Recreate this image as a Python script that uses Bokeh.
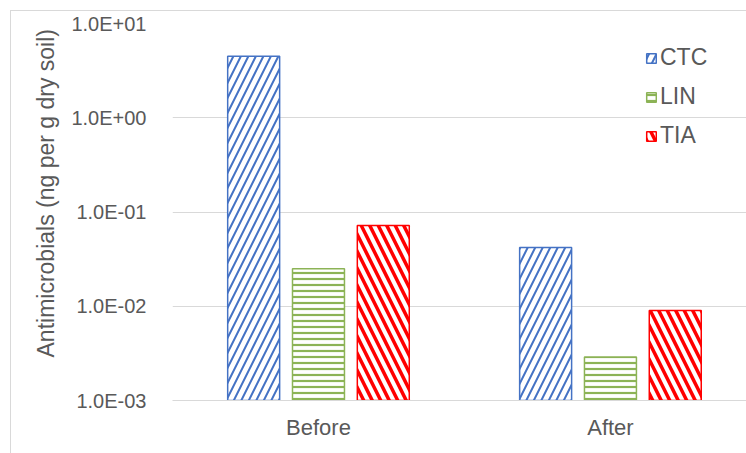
from bokeh.plotting import figure
from bokeh.layouts import column
from bokeh.models import (ColumnDataSource, Range1d, FixedTicker, CustomJSTickFormatter,
                          Legend, LegendItem, Title)
from bokeh.embed import file_html
from bokeh.resources import INLINE

# Antimicrobial concentrations (ng per g dry soil)
categories = ["Before", "After"]
ctc = [4.5, 0.042]
lin = [0.025, 0.0029]
tia = [0.072, 0.0090]

series_names = ["CTC", "LIN", "TIA"]
series_vals = [ctc, lin, tia]
colors = ["#4472C4", "#8CB356", "#FF0000"]
hatches = ["/", "-", "\\"]
hatch_scales = [15, 6, 17]
hatch_weights = [2.0, 2.2, 3.5]
offsets = [-0.222, 0.0, 0.222]

FONT = "Liberation Sans"
GREY = "#595959"

centers = [0.5 + i for i in range(len(categories))]

p = figure(width=735, height=442, y_axis_type="log",
           x_range=Range1d(0, 1.966), y_range=Range1d(1e-3, 10),
           output_backend="svg", toolbar_location=None,
           min_border_left=161, min_border_right=0,
           min_border_top=12, min_border_bottom=53)
p.outline_line_color = None
p.background_fill_color = "white"
p.border_fill_color = "white"

renderers = []
for name, vals, col, hp, hs, hw, off in zip(series_names, series_vals, colors,
                                            hatches, hatch_scales, hatch_weights, offsets):
    src = ColumnDataSource(dict(x=[c + off for c in centers], top=vals,
                                bottom=[1e-3] * len(vals)))
    r = p.vbar(x="x", top="top", bottom="bottom", width=0.178, source=src,
               fill_color="white", line_color=col, line_width=1.5,
               hatch_pattern=hp, hatch_color=col, hatch_scale=hs, hatch_weight=hw)
    renderers.append(r)

# axes
p.yaxis.ticker = FixedTicker(ticks=[1e-3, 1e-2, 1e-1, 1, 10], minor_ticks=[])
p.yaxis.formatter = CustomJSTickFormatter(code="""
const e = Math.round(Math.log10(tick));
return "1.0E" + (e < 0 ? "-" : "+") + String(Math.abs(e)).padStart(2, "0");
""")
p.yaxis.axis_line_color = None
p.yaxis.major_tick_line_color = None
p.yaxis.minor_tick_line_color = None
p.yaxis.major_label_standoff = 20
p.yaxis.major_label_text_font = FONT
p.yaxis.major_label_text_font_size = "20px"
p.yaxis.major_label_text_color = GREY

p.xaxis.ticker = FixedTicker(ticks=centers)
p.xaxis.major_label_overrides = {c: lab for c, lab in zip(centers, categories)}
p.xaxis.axis_line_color = "#D9D9D9"
p.xaxis.major_tick_line_color = None
p.xaxis.minor_tick_line_color = None
p.xaxis.major_label_standoff = 8
p.xaxis.major_label_text_font = FONT
p.xaxis.major_label_text_font_size = "22px"
p.xaxis.major_label_text_color = GREY

p.xgrid.grid_line_color = None
p.ygrid.grid_line_color = "#D9D9D9"
p.ygrid.grid_line_width = 1

# vertical axis title, starting a little above the bottom of the plot frame
p.add_layout(Title(text="Antimicrobials  (ng per g dry soil)", align="left", offset=43,
                   standoff=20, text_font=FONT, text_font_size="23px",
                   text_font_style="normal", text_color=GREY), "left")

legend = Legend(items=[LegendItem(label=n, renderers=[r]) for n, r in zip(series_names, renderers)],
                location=(473, 251), glyph_width=12, glyph_height=12,
                label_standoff=3, padding=0, margin=0, spacing=12, label_height=20,
                label_text_font=FONT, label_text_font_size="23px",
                label_text_color=GREY, border_line_color=None,
                background_fill_alpha=0)
p.add_layout(legend)

# chart area with a light border on its left and top edges
page = column(p, margin=(10, 0, 0, 10),
              styles={"border-left": "1px solid #D9D9D9", "border-top": "1px solid #D9D9D9"})

open("out.html", "w").write(file_html(page, INLINE))
